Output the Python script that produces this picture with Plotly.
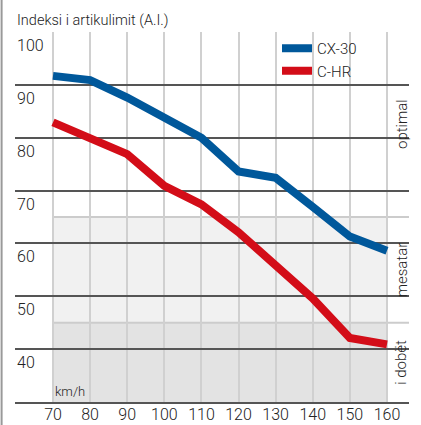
import plotly.graph_objects as go

speeds = [70, 80, 90, 100, 110, 120, 130, 140, 150, 160]
cx30 = [91.7, 90.9, 87.6, 83.8, 80.0, 73.6, 72.4, 66.9, 61.3, 58.6]
chr_ = [82.9, 79.9, 76.9, 70.9, 67.4, 62.1, 56.0, 49.6, 42.1, 40.9]
y_ticks = [100, 90, 80, 70, 60, 50, 40]
zones = [("optimal", 65, 100), ("mesatar", 45, 65), ("i dobët", 30, 45)]

FONT = "Roboto, 'Liberation Sans', sans-serif"
TXT = "#222222"
W = 300

fig = go.Figure()
fig.add_trace(go.Scatter(x=speeds, y=cx30, mode="lines", name="CX-30",
                         line=dict(color="#00589b", width=8)))
fig.add_trace(go.Scatter(x=speeds, y=chr_, mode="lines", name="C-HR",
                         line=dict(color="#d30d18", width=8)))

# zone bands
fig.add_shape(type="rect", xref="x", yref="y", x0=70, x1=160, y0=45, y1=65,
              fillcolor="#f1f1f1", line_width=0, layer="below")
fig.add_shape(type="rect", xref="x", yref="y", x0=70, x1=160, y0=30, y1=45,
              fillcolor="#e3e3e3", line_width=0, layer="below")
for yv in (65, 45):
    fig.add_shape(type="line", xref="x", yref="y", x0=70, x1=166, y0=yv, y1=yv,
                  line=dict(color="#cccccc", width=2), layer="below")

# left border
fig.add_shape(type="line", xref="paper", yref="paper", x0=-0.034, x1=-0.034,
              y0=-0.1, y1=1.1, line=dict(color="#999999", width=2))

# y labels below lines
for t in y_ticks:
    fig.add_annotation(x=0, xref="paper", y=t, yref="y", text=str(t),
                       showarrow=False, xanchor="left", yanchor="top", yshift=-2,
                       font=dict(family=FONT, size=16, color=TXT, weight=W))

for name, lo, hi in zones:
    fig.add_annotation(x=0.981, xref="paper", y=(lo + hi) / 2, yref="y", text=name,
                       showarrow=False, textangle=-90, xanchor="center", yanchor="middle",
                       font=dict(family=FONT, size=15, color=TXT, weight=W))

fig.add_annotation(x=70, xref="x", y=30, yref="y", text="km/h", showarrow=False,
                   xanchor="left", yanchor="bottom", xshift=0, yshift=1,
                   font=dict(family=FONT, size=13, color=TXT, weight=W))
fig.add_annotation(x=0, xref="paper", y=1, yref="paper", text="Indeksi i artikulimit (A.I.)",
                   showarrow=False, xanchor="left", yanchor="bottom", yshift=1,
                   font=dict(family=FONT, size=14.5, color=TXT, weight=W))

fig.update_layout(
    width=421, height=425,
    margin=dict(l=15, r=12, t=32, b=23),
    paper_bgcolor="white", plot_bgcolor="white",
    showlegend=True,
    legend=dict(x=0.665, y=1.0, xanchor="left", yanchor="top",
                font=dict(family=FONT, size=15, color=TXT, weight=W),
                bgcolor="rgba(0,0,0,0)", tracegroupgap=0),
    xaxis=dict(range=[59.76, 165.93], tickvals=speeds, ticktext=[str(s) for s in speeds],
               showgrid=True, gridcolor="#d0d0d0", gridwidth=2, zeroline=False,
               showline=True, linecolor="#555555", linewidth=1.5, automargin=False,
               ticklabelstandoff=-3,
               ticks="", tickfont=dict(family=FONT, size=16, color=TXT, weight=W)),
    yaxis=dict(range=[30, 100], tickvals=y_ticks, showticklabels=False,
               showgrid=True, gridcolor="#555555", gridwidth=1.5, zeroline=False,
               automargin=False, ticks=""),
)
fig.write_html("out.html", config={"displayModeBar": False},
               post_script="document.body.style.margin='0';document.body.style.overflow='hidden';")
